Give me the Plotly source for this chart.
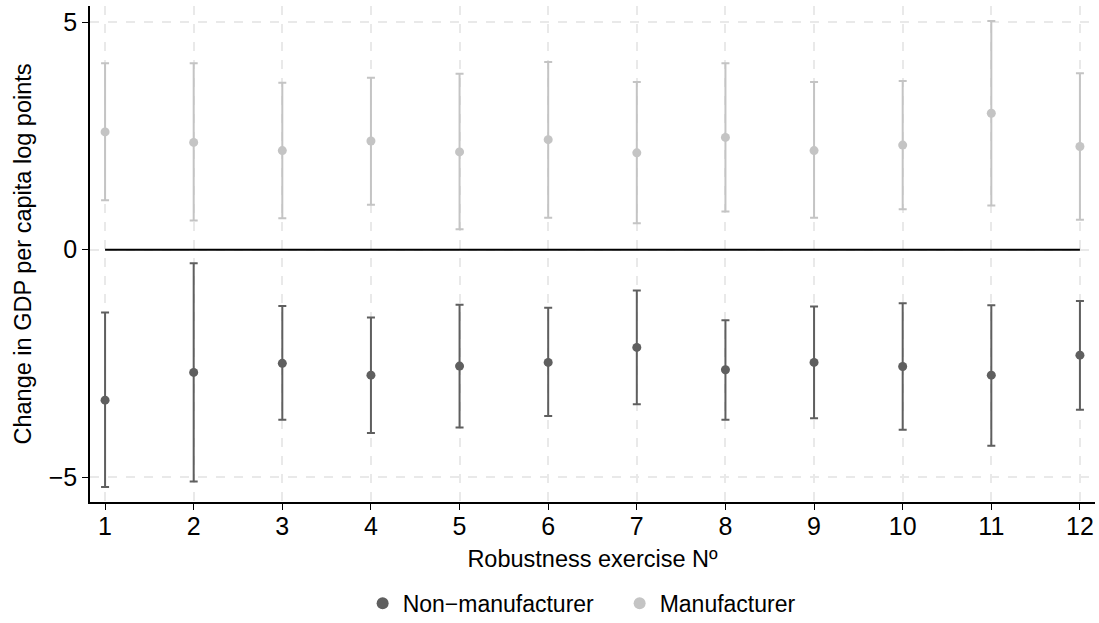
import plotly.graph_objects as go

# Robustness exercise number
exercise = [1, 2, 3, 4, 5, 6, 7, 8, 9, 10, 11, 12]

# Point estimates with confidence bounds (log points)
nonmanuf_est = [-3.31, -2.70, -2.50, -2.76, -2.56, -2.48, -2.15, -2.64, -2.48, -2.57, -2.76, -2.32]
nonmanuf_lo = [-5.22, -5.10, -3.74, -4.03, -3.91, -3.66, -3.40, -3.74, -3.71, -3.96, -4.31, -3.52]
nonmanuf_hi = [-1.38, -0.30, -1.24, -1.49, -1.21, -1.28, -0.90, -1.55, -1.25, -1.18, -1.22, -1.13]

manuf_est = [2.59, 2.36, 2.18, 2.39, 2.15, 2.42, 2.13, 2.47, 2.18, 2.30, 3.00, 2.27]
manuf_lo = [1.09, 0.64, 0.69, 0.99, 0.45, 0.70, 0.58, 0.84, 0.70, 0.89, 0.97, 0.66]
manuf_hi = [4.10, 4.10, 3.67, 3.78, 3.87, 4.13, 3.69, 4.10, 3.69, 3.71, 5.03, 3.88]

y_ticks = [-5, 0, 5]

DARK = "#5f5f5f"
LIGHT = "#c4c4c4"
FONT = "Liberation Sans, Arial, Helvetica, sans-serif"


def ci_trace(name, est, lo, hi, color):
    return go.Scatter(
        x=exercise,
        y=est,
        name=name,
        mode="markers",
        marker=dict(color=color, size=9),
        error_y=dict(
            type="data",
            symmetric=False,
            array=[h - e for h, e in zip(hi, est)],
            arrayminus=[e - l for e, l in zip(est, lo)],
            color=color,
            thickness=2,
            width=4,
        ),
    )


fig = go.Figure()
fig.add_trace(ci_trace("Non\u2212manufacturer", nonmanuf_est, nonmanuf_lo, nonmanuf_hi, DARK))
fig.add_trace(ci_trace("Manufacturer", manuf_est, manuf_lo, manuf_hi, LIGHT))

# Reference line at zero, spanning the exercises
fig.add_shape(
    type="line", xref="x", yref="y",
    x0=exercise[0], x1=exercise[-1], y0=0, y1=0,
    line=dict(color="black", width=2),
)

fig.update_layout(
    width=1099,
    height=623,
    margin=dict(l=90, r=4, t=6, b=121, autoexpand=False),
    paper_bgcolor="white",
    plot_bgcolor="white",
    font=dict(family=FONT, size=23, color="black"),
    legend=dict(
        orientation="h",
        x=0.527,
        xanchor="center",
        y=-0.204,
        yanchor="middle",
        font=dict(size=23),
        itemsizing="constant",
        traceorder="normal",
        entrywidth=212,
        entrywidthmode="pixels",
    ),
)

axis_common = dict(
    ticks="outside",
    ticklen=6,
    tickcolor="black",
    tickfont=dict(size=25),
    showline=True,
    linecolor="black",
    linewidth=1.5,
    showgrid=True,
    gridcolor="#e9e9e9",
    griddash="dash",
    gridwidth=1.5,
    zeroline=False,
    automargin=False,
)

fig.update_xaxes(
    range=[0.83, 12.17],
    tickmode="array",
    tickvals=exercise,
    ticktext=[str(v) for v in exercise],
    ticklabelstandoff=-5,
    title=dict(text="Robustness exercise N\u00ba", standoff=12, font=dict(size=23.5)),
    **axis_common,
)

fig.update_yaxes(
    range=[-5.55, 5.36],
    tickmode="array",
    tickvals=y_ticks,
    title=dict(text="Change in GDP per capita log points", standoff=11, font=dict(size=23.5)),
    **axis_common,
)

fig.write_html("out.html")
